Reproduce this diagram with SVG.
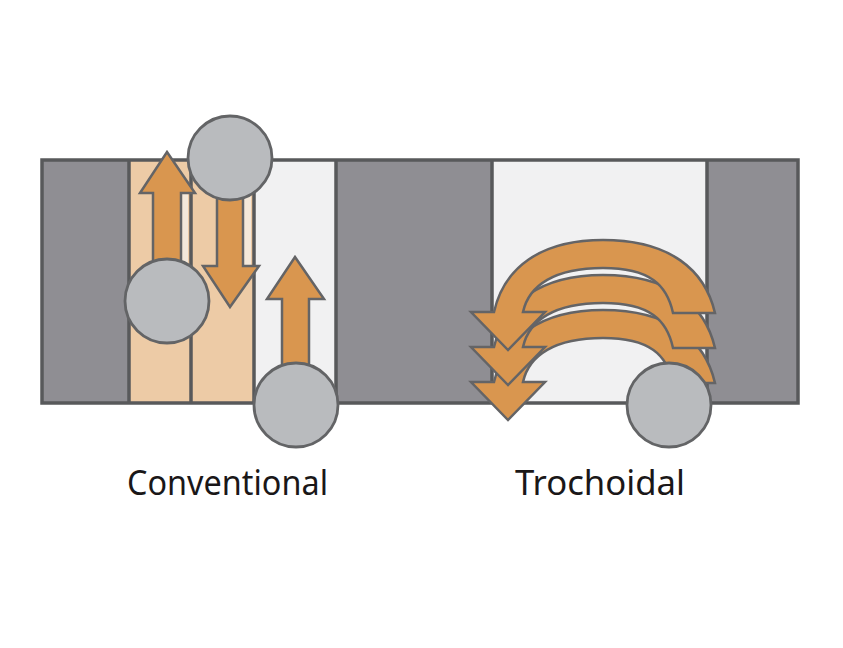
<svg xmlns="http://www.w3.org/2000/svg" width="843" height="648" viewBox="0 0 843 648">
<defs><style>
.ln{stroke:#58595b;stroke-width:3.5;stroke-linejoin:miter}
.blk{fill:#8f8e93}.lt{fill:#f1f1f2}.tan{fill:#edcba6}.pale{fill:#f4e8da}
.arr{fill:#d9964f;stroke:#646466;stroke-width:2.5;stroke-linejoin:miter}
.ball{fill:#b9bbbe;stroke:#636466;stroke-width:2.8}
.lbl{font-family:"Noto Sans","Open Sans",sans-serif;font-size:34px;fill:#1a1718;text-anchor:start}
</style>
<path id="tro" d="M715,313 C705,270 670,240 603,240 C540,240 504,268 494,312 L471,312 L508,350 L545,312 L523,312 C529,285 555,268 603,268 C650,268 667,285 673,313 Z"/>
</defs>
<rect width="843" height="648" fill="#fff"/>
<g id="slab">
<rect class="blk" x="42" y="160" width="756" height="243"/>
<rect class="tan" x="129" y="160" width="125" height="243"/>
<rect class="lt" x="254" y="160" width="82" height="243"/>
<rect class="lt" x="492" y="160" width="215" height="243"/>
<rect class="pale" x="180" y="193" width="8" height="72"/>
<rect class="pale" x="243" y="195" width="8" height="72"/>
<g class="ln" fill="none">
<rect x="42" y="160" width="756" height="243"/>
<path d="M129,160V403M191,160V403M254,160V403M336,160V403M492,160V403M707,160V403"/>
</g>
</g>
<g id="connectors">
<path class="arr" d="M167,152 L195,193 L181,193 L181,270 L153,270 L153,193 L140,193 Z"/>
<path class="arr" d="M217,190 L243,190 L243,266 L259,266 L230,307 L203,266 L217,266 Z"/>
<path class="arr" d="M295,257 L324,299 L309,299 L309,375 L282,375 L282,299 L267,299 Z"/>
<use class="arr" href="#tro" y="70"/>
<use class="arr" href="#tro" y="35"/>
<use class="arr" href="#tro"/>
</g>
<g id="ball-1"><circle class="ball" cx="230" cy="158" r="42"/></g>
<g id="ball-2"><circle class="ball" cx="167" cy="301" r="42"/></g>
<g id="ball-3"><circle class="ball" cx="296" cy="405" r="42"/></g>
<g id="ball-4"><circle class="ball" cx="669" cy="405" r="42"/></g>
<g id="labels">
<text class="lbl" x="127" y="495" textLength="201" lengthAdjust="spacingAndGlyphs">Conventional</text>
<text class="lbl" x="515" y="495" textLength="170" lengthAdjust="spacingAndGlyphs">Trochoidal</text>
</g>
</svg>
